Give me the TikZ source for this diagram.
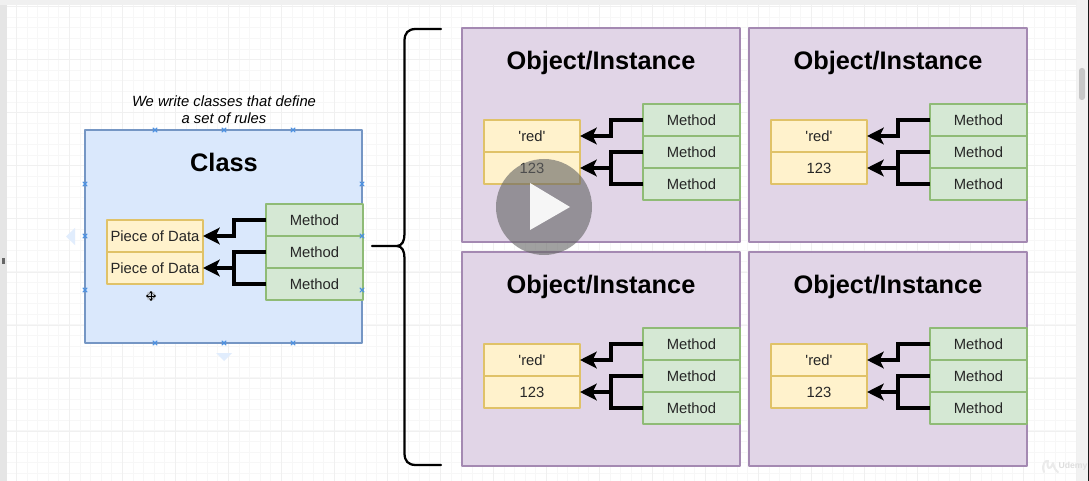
\documentclass[tikz,border=0pt]{standalone}
\usepackage{fontspec}
\setmainfont{Liberation Sans}
\usetikzlibrary{positioning,arrows.meta}
\definecolor{classFill}{HTML}{DAE8FC}
\definecolor{classLine}{HTML}{7596C4}
\definecolor{objFill}{HTML}{E1D5E7}
\definecolor{objLine}{HTML}{A489B2}
\definecolor{dataFill}{HTML}{FFF2CC}
\definecolor{dataLine}{HTML}{E0C268}
\definecolor{methodFill}{HTML}{D5E8D4}
\definecolor{methodLine}{HTML}{8FBB76}
\definecolor{handleBlue}{HTML}{4A90E2}
\begin{document}
\begin{tikzpicture}
  [
    x=.75pt, y=-.75pt,
    line cap=round, line join=round,
    >={Stealth[length=12.5pt,width=12.5pt,inset=3pt]},
    gridminor/.style={draw=black!3, line width=.6pt},
    gridmajor/.style={draw=black!6, line width=.75pt},
    rowbox/.style={draw, line width=1.5pt, inner sep=0pt, outer sep=0pt, minimum height=24pt,
      text=black!85, font=\fontsize{11.1}{13}\selectfont},
    databox/.style={rowbox, fill=dataFill, draw=dataLine, minimum width=72pt},
    methodbox/.style={rowbox, fill=methodFill, draw=methodLine, minimum width=72.75pt},
    wire/.style={black, line width=2.4pt, line cap=butt, line join=miter},
    link/.style={wire, ->},
    brace/.style={black, line width=1.7pt},
    title/.style={font=\fontsize{19}{22}\selectfont\bfseries},
    handle/.style={handleBlue, line width=.8pt},
    pointer/.style={fill=classFill!80!white, draw=none},
  ]
\useasboundingbox (0,0) rectangle (1089,481);

% page and grid
\fill[white] (0,0) rectangle (1089,481);
\foreach \i in {0,...,100} {
  \draw[gridminor] (5.7+10.6*\i,0) -- (5.7+10.6*\i,481);
}
\foreach \i in {0,...,45} {
  \draw[gridminor] (0,6.7+10.6*\i) -- (1089,6.7+10.6*\i);
}
\foreach \i in {0,...,20} {
  \draw[gridmajor] (16.3+53*\i,0) -- (16.3+53*\i,481);
}
\foreach \i in {0,...,8} {
  \draw[gridmajor] (0,7+53*\i) -- (1089,7+53*\i);
}
\fill[black!10] (0,0) rectangle (7,481);
\fill[black!6] (0,0) rectangle (1089,5);
\fill[black!5] (1077,0) rectangle (1089,481);
\fill[black!60] (2,258) rectangle (4.5,264);
\fill[black!22, rounded corners=2pt] (1079,68) rectangle (1085,100);
\fill[black!90] (1088,0) rectangle (1089,481);

\newcommand\memberRows[5]{
  \node[databox, anchor=north west] (#1d1) at (#2,#3) {#4};
  \node[databox, below=0pt of #1d1] (#1d2) {#5};
  \node[methodbox, anchor=north west] (#1m1) at (#2+159,#3-16) {Method};
  \node[methodbox, below=0pt of #1m1] (#1m2) {Method};
  \node[methodbox, below=0pt of #1m2] (#1m3) {Method};
  \coordinate (#1bus) at (#2+127,#3);
  \draw[link] (#1m1.west) -- (#1m1.west -| #1bus) |- (#1d1.east);
  \draw[link] (#1m2.west) -- (#1m2.west -| #1bus) |- (#1d2.east);
  \draw[wire] (#1m3.west) -- (#1m3.west -| #1bus) -- (#1bus |- #1d2.east);
}

% class
\coordinate (classTL) at (85,130);
\coordinate (classBR) at (362,343);
\draw[fill=classFill, draw=classLine, line width=1.5pt] (classTL) rectangle (classBR);
\node[title] (classTitle) at (224,162) {Class};
\node[font=\fontsize{11.1}{12.8}\selectfont\itshape, align=center] (classNote) at (224,110)
  {We write classes that define\\a set of rules};
\memberRows{c}{107}{220}{Piece of Data}{Piece of Data}

% selection handles
\foreach \X/\Y in {155/130,224/130,293/130,155/343,224/343,293/343,
                   85/184,85/236,85/290,362/184,362/236,362/290} {
  \draw[handle] (\X-2,\Y-2) -- (\X+2,\Y+2) (\X-2,\Y+2) -- (\X+2,\Y-2);
}
\fill[pointer] (75,228) -- (75,245) -- (66,236.5) -- cycle;
\fill[pointer] (216,353) -- (232,353) -- (224,361) -- cycle;

% move cursor
\fill[black!30, opacity=.5] (151,296) circle (5);
\draw[black, line width=.7pt, <->, >={Stealth[length=2pt,width=3pt]}] (146,296) -- (156,296);
\draw[black, line width=.7pt, <->, >={Stealth[length=2pt,width=3pt]}] (151,291) -- (151,301);

% brace
\coordinate (braceTop) at (441,29);
\coordinate (braceBot) at (441,465);
\coordinate (braceTip) at (372,246);
\draw[brace] (braceTop) -- (416,29) .. controls (408,29) and (404.5,33) .. (404.5,41)
  -- (404.5,234) .. controls (404.5,241) and (402,246) .. (397,246) -- (braceTip);
\draw[brace] (397,246) .. controls (402,246) and (404.5,251) .. (404.5,258)
  -- (404.5,453) .. controls (404.5,461) and (408,465) .. (416,465) -- (braceBot);

% objects
\foreach \name/\X/\Y in {a/462/28,b/749/28,e/462/252,f/749/252} {
  \draw[fill=objFill, draw=objLine, line width=1.5pt] (\X,\Y) rectangle (\X+278,\Y+214);
  \node[title] (\name title) at (\X+139,\Y+35) {Object/Instance};
  \memberRows{\name}{\X+22}{\Y+92}{\textquotesingle red\textquotesingle}{123}
}

% video overlay
\fill[black!60, opacity=.62] (544,207) circle (48);
\fill[white, opacity=.92] (530,183) -- (530,230) -- (570,207) -- cycle;

% watermark
\draw[black!8, line width=1.5pt] (1044,472) .. controls (1041,464) and (1046,460) .. (1048,461)
  .. controls (1046,468) and (1050,472) .. (1053,463) .. controls (1054,468) and (1056,471) .. (1058,472);
\node[black!13, font=\fontsize{6.5}{8}\selectfont\bfseries] (udemyMark) at (1073,466) {Udemy};

\end{tikzpicture}
\end{document}
